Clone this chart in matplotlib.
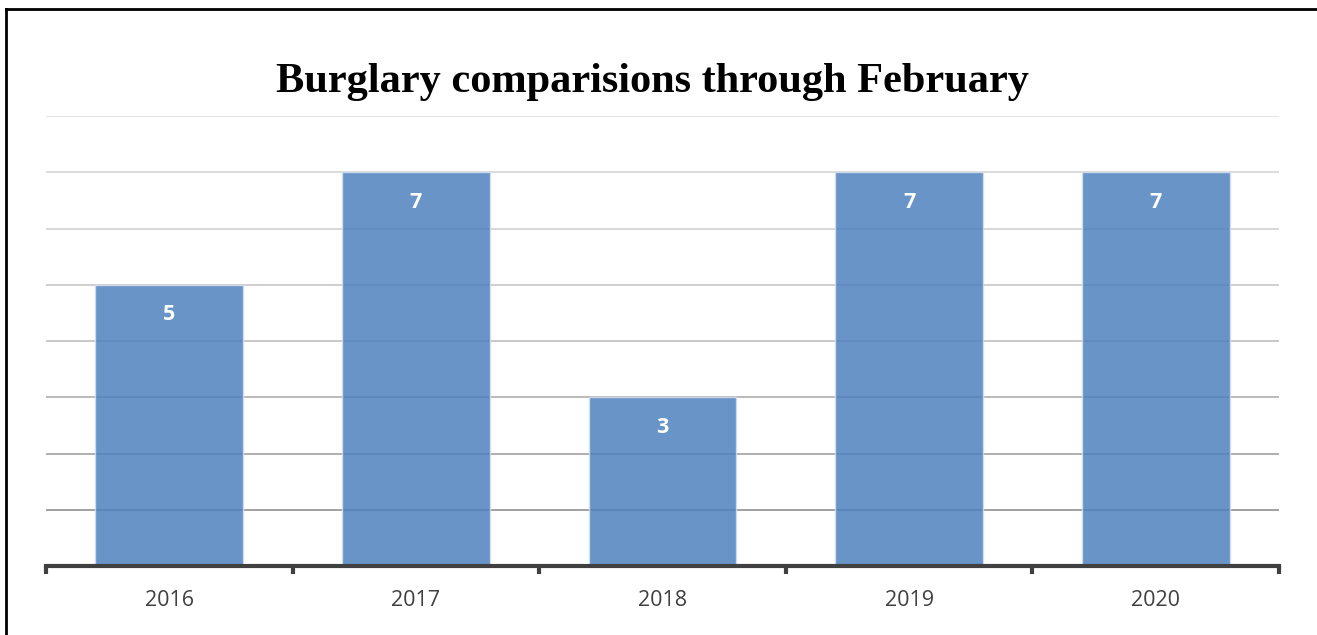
import matplotlib.pyplot as plt
from matplotlib.lines import Line2D

# data
years = ['2016', '2017', '2018', '2019', '2020']
burglaries = [5, 7, 3, 7, 7]
grid_levels = [1, 2, 3, 4, 5, 6, 7, 8]
grid_colors = ['#9a9a9a', '#a8a8a8', '#b4b4b4', '#c4c4c4',
               '#cccccc', '#d4d4d4', '#d9d9d9', '#e0e0e0']

fig = plt.figure(figsize=(13.17, 6.35), dpi=100)
ax = fig.add_axes([46 / 1317, 1 - 566 / 635, (1279 - 46) / 1317, (566 - 116) / 635])

x = list(range(len(years)))

# horizontal gridlines (behind the bars, bars are a bit transparent)
for lvl, col in zip(grid_levels, grid_colors):
    ax.axhline(lvl, color=col, lw=1.3, zorder=0)

ax.bar(x, burglaries, width=0.6, color='#4F81BD', alpha=0.85,
       edgecolor='#d5e0ef', linewidth=1, zorder=2)

for xi, v in zip(x, burglaries):
    ax.annotate(str(v), (xi, v), xytext=(0, -21.5), textcoords='offset points',
                ha='center', va='center', color='white', fontsize=15.5,
                fontweight='bold', family='Open Sans', zorder=3)

ax.set_xlim(-0.5, len(years) - 0.5)
ax.set_ylim(0, 8)

# category boundaries get the tick marks, labels sit at the centres
ax.set_xticks([i - 0.5 for i in range(len(years) + 1)])
ax.set_xticklabels([])
ax.set_xticks(x, minor=True)
ax.set_xticklabels(years, minor=True, family='Open Sans', fontsize=15.5, color='#404040')
ax.tick_params(axis='x', which='major', direction='out', length=6, width=3, color='#404040')
ax.tick_params(axis='x', which='minor', length=0, pad=17)
ax.set_yticks([])

for s in ['top', 'right', 'left']:
    ax.spines[s].set_visible(False)
ax.spines['bottom'].set_color('#404040')
ax.spines['bottom'].set_linewidth(3)
ax.spines['bottom'].set_zorder(4)

fig.text(652 / 1317, 1 - 92 / 635, 'Burglary comparisions through February',
         ha='center', va='baseline', family='Liberation Serif', fontweight='bold',
         fontsize=30.5, color='black')

# outer frame of the chart (left and top edges visible)
fig.add_artist(Line2D([6 / 1317, 6 / 1317], [0, 1 - 9 / 635], transform=fig.transFigure,
                      color='black', lw=2))
fig.add_artist(Line2D([6 / 1317, 1], [1 - 9 / 635, 1 - 9 / 635], transform=fig.transFigure,
                      color='black', lw=2))

fig.savefig('out.png', dpi=100)
